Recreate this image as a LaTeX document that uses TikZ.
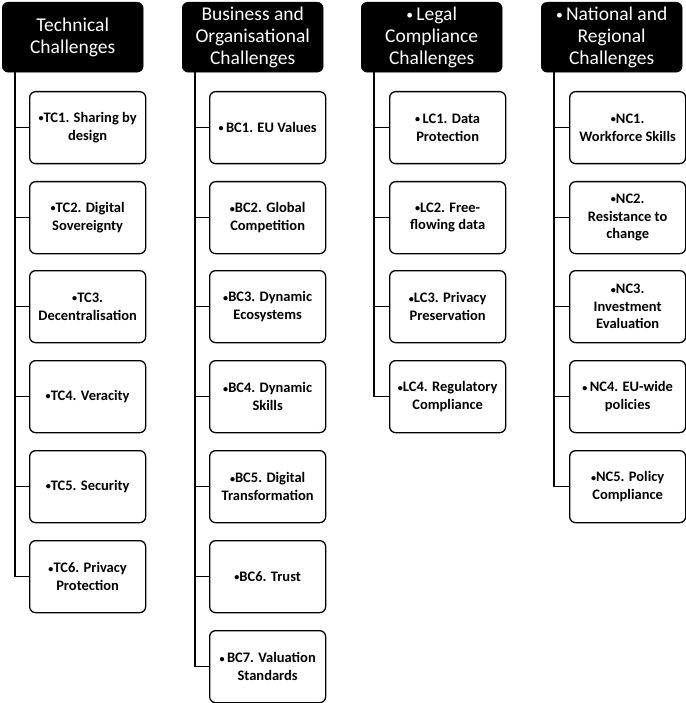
\documentclass[tikz,border=0pt]{standalone}
\usepackage{fontspec}
\setmainfont{Carlito}
\newcommand\bul{\raisebox{0.12ex}{\scalebox{0.7}{•}}}
\begin{document}
\begin{tikzpicture}[x=1pt,y=-1pt,
  hdr/.style={draw=black,fill=black,text=white,rounded corners=6pt,minimum width=141pt,minimum height=70pt,anchor=north west,align=center,inner sep=2pt,font=\fontsize{19.5}{22}\selectfont},
  item/.style={draw=black,line width=1.3pt,fill=white,rounded corners=6pt,minimum width=116pt,minimum height=72pt,anchor=north west,align=center,inner sep=2pt,font=\fontsize{14.5}{17.5}\selectfont\bfseries},
  conn/.style={line width=1.3pt,draw=black}]
\useasboundingbox (0,0) rectangle (685,703);
% headers
\node[hdr] (h1) at (2,2) {Technical\\Challenges};
\node[hdr] (h2) at (182,2) {Business and\\Organisational\\Challenges};
\node[hdr] (h3) at (361,2) {\bul\,Legal\\Compliance\\Challenges};
\node[hdr] (h4) at (541,2) {\bul\,National and\\Regional\\Challenges};
% Technical
\node[item] (t1) at (29,91) {\bul TC1. Sharing by\\design};
\node[item] (t2) at (29,181) {\bul TC2. Digital\\Sovereignty};
\node[item] (t3) at (29,270) {\bul TC3.\\Decentralisation};
\node[item] (t4) at (29,360) {\bul TC4. Veracity};
\node[item] (t5) at (29,450) {\bul TC5. Security};
\node[item] (t6) at (29,540) {\bul TC6. Privacy\\Protection};
% Business
\node[item] (b1) at (209,91) {\bul\,BC1. EU Values};
\node[item] (b2) at (209,181) {\bul BC2. Global\\Competition};
\node[item] (b3) at (209,270) {\bul BC3. Dynamic\\Ecosystems};
\node[item] (b4) at (209,360) {\bul BC4. Dynamic\\Skills};
\node[item] (b5) at (209,450) {\bul BC5. Digital\\Transformation};
\node[item] (b6) at (209,540) {\bul BC6. Trust};
\node[item] (b7) at (209,630) {\bul\,BC7. Valuation\\Standards};
% Legal
\node[item] (l1) at (389,91) {\bul\,LC1. Data\\Protection};
\node[item] (l2) at (389,181) {\bul LC2. Free-\\flowing data};
\node[item] (l3) at (389,270) {\bul LC3. Privacy\\Preservation};
\node[item] (l4) at (389,360) {\bul LC4. Regulatory\\Compliance};
% National
\node[item] (n1) at (569,91) {\bul NC1.\\Workforce Skills};
\node[item] (n2) at (569,181) {\bul NC2.\\Resistance to\\change};
\node[item] (n3) at (569,270) {\bul NC3.\\Investment\\Evaluation};
\node[item] (n4) at (569,360) {\bul\,NC4. EU-wide\\policies};
\node[item] (n5) at (569,450) {\bul NC5. Policy\\Compliance};
% connectors
\foreach \c in {t1,t2,t3,t4,t5,t6}{\draw[conn] ([xshift=13pt]h1.south west) |- (\c.west);}
\foreach \c in {b1,b2,b3,b4,b5,b6,b7}{\draw[conn] ([xshift=13pt]h2.south west) |- (\c.west);}
\foreach \c in {l1,l2,l3,l4}{\draw[conn] ([xshift=13pt]h3.south west) |- (\c.west);}
\foreach \c in {n1,n2,n3,n4,n5}{\draw[conn] ([xshift=13pt]h4.south west) |- (\c.west);}
\end{tikzpicture}
\end{document}
